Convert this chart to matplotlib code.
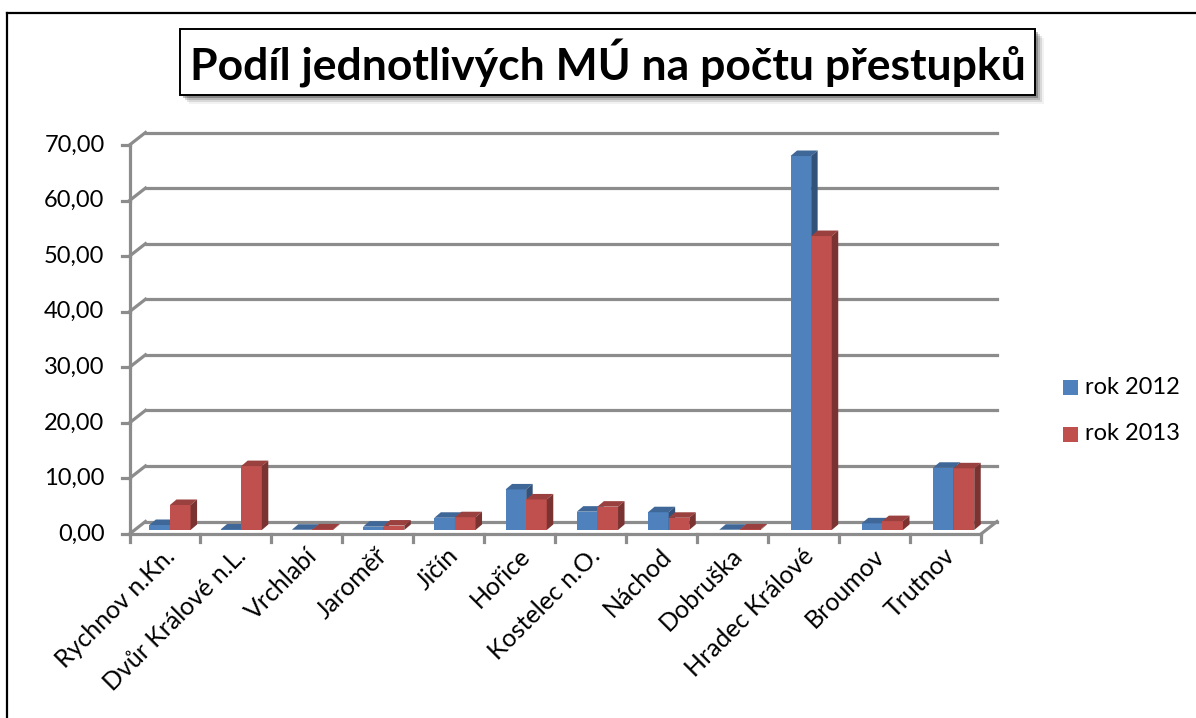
import matplotlib
matplotlib.use("Agg")
import matplotlib.pyplot as plt
from matplotlib.patches import Polygon, Rectangle
from matplotlib.lines import Line2D

categories = ["Rychnov n.Kn.", "Dvůr Králové n.L.", "Vrchlabí", "Jaroměř", "Jičín", "Hořice",
              "Kostelec n.O.", "Náchod", "Dobruška", "Hradec Králové", "Broumov", "Trutnov"]
rok_2012 = [0.9, 0.1, 0.05, 0.6, 2.2, 7.3, 3.3, 3.2, 0.05, 67.3, 1.2, 11.2]
rok_2013 = [4.5, 11.5, 0.1, 0.8, 2.3, 5.5, 4.2, 2.2, 0.1, 52.9, 1.6, 11.1]
y_ticks = [0, 10, 20, 30, 40, 50, 60, 70]
title = "Podíl jednotlivých MÚ na počtu přestupků"

W, H = 1196, 718
plt.rcParams["font.family"] = ["Lato", "DejaVu Sans"]
fig = plt.figure(figsize=(W / 100, H / 100), dpi=100, facecolor="white")

# front plane of the 3-D box
L, R, B, T = 129.5, 981, 534, 145
ax = fig.add_axes([L / W, 1 - B / H, (R - L) / W, (B - T) / H])
ax.set_xlim(0, len(categories))
ax.set_ylim(0, 70)
ax.axis("off")

px_x = len(categories) / (R - L)      # data units per pixel
px_y = 70 / (B - T)
dx, dy = 16 * px_x, 12.5 * px_y       # wall depth
gc, glw = "#8c8c8c", 2.3


def seg(xs, ys, **kw):
    ax.add_line(Line2D(xs, ys, color=gc, lw=glw, clip_on=False, solid_capstyle="projecting", **kw))


for v in y_ticks:
    seg([dx, len(categories) + dx], [v + dy, v + dy])
    seg([0, dx], [v, v + dy])
    seg([-8 * px_x, 0], [v, v])
    ax.text(-25 * px_x, v, f"{v:.2f}".replace(".", ","), ha="right", va="center", fontsize=17, color="black")
seg([0, 0], [0, 70])
seg([0, len(categories)], [0, 0])
seg([len(categories), len(categories) + dx], [0, dy])
for i in range(len(categories) + 1):
    seg([i, i], [0, -8 * px_y])
for i, c in enumerate(categories):
    ax.text(i + 0.47, -10 * px_y, c, rotation=45, rotation_mode="anchor", ha="right", va="top",
            fontsize=18, color="black", clip_on=False)

# bars
base = 4 * px_y
bw = 20.6 * px_x
ox = 0.28
step = 1.004
bdx, bdy = 6.5 * px_x, 5.5 * px_y


def bar3d(x, v, front, top, side, z):
    ax.add_patch(Rectangle((x, base), bw, v, fc=front, ec="none", zorder=z, clip_on=False))
    y = base + v
    ax.add_patch(Polygon([(x, y), (x + bdx, y + bdy), (x + bw + bdx, y + bdy), (x + bw, y)],
                         fc=top, ec="none", zorder=z, clip_on=False))
    ax.add_patch(Polygon([(x + bw, base), (x + bw + bdx, base + bdy), (x + bw + bdx, y + bdy), (x + bw, y)],
                         fc=side, ec="none", zorder=z, clip_on=False))


for i, (a, b) in enumerate(zip(rok_2012, rok_2013)):
    bar3d(i * step + ox, a, "#4f81bd", "#3f6797", "#325279", 5)
    bar3d(i * step + ox + bw, b, "#c0504d", "#9a403e", "#7a3331", 6)

# legend
for y_px, lab, col in [(387, "rok 2012", "#4f81bd"), (434, "rok 2013", "#c0504d")]:
    fig.add_artist(Rectangle((1063 / W, 1 - (y_px + 8) / H), 15 / W, 15 / H, fc=col, ec="none",
                             transform=fig.transFigure))
    fig.text(1085 / W, 1 - y_px / H, lab, ha="left", va="center", fontsize=17, color="black")

# outer border and title box with shadow
for a in [(7, 13, 7, 718), (7, 13, 1196, 13)]:
    fig.add_artist(Line2D([a[0] / W, a[2] / W], [1 - a[1] / H, 1 - a[3] / H], color="black", lw=1.6,
                          transform=fig.transFigure))
bx, by, bw_px, bh_px = 180, 29, 855, 66
for k, alpha in [(9, 0.05), (7, 0.1), (5, 0.15), (3, 0.25)]:
    fig.add_artist(Rectangle(((bx + k) / W, 1 - (by + bh_px + k) / H), bw_px / W, bh_px / H, fc="black",
                             alpha=alpha, ec="none", transform=fig.transFigure))
fig.add_artist(Rectangle((bx / W, 1 - (by + bh_px) / H), bw_px / W, bh_px / H, fc="white", ec="black", lw=1.4,
                         transform=fig.transFigure))
t = fig.text(608 / W, 1 - 63 / H, title, ha="center", va="center", fontsize=32, fontweight="bold", color="black")
t.set_zorder(10)

fig.savefig("out.png", dpi=100)
